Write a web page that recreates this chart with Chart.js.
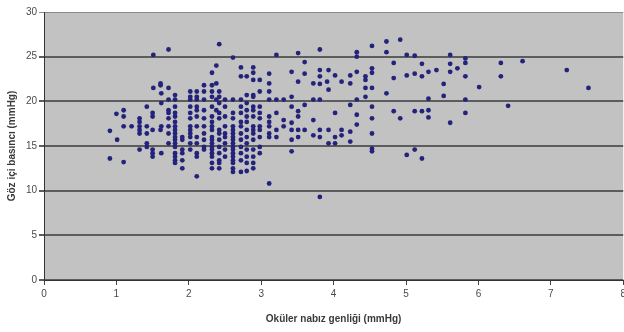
<!DOCTYPE html>
<html>
<head>
<meta charset="utf-8">
<script src="https://cdn.jsdelivr.net/npm/chart.js@4"></script>
<style>
html, body { margin: 0; padding: 0; background: #fff; overflow: hidden; }
</style>
</head>
<body>
<canvas id="scatter" width="629" height="332"></canvas>
<script>
// ocular pulse amplitude (x) and intraocular pressure (y)
var opa = [
  2.42, 1.72, 1.51, 2.61, 3.21, 2.38, 2.72, 2.89, 2.32, 2.89, 3.11, 2.72, 2.80, 2.89, 2.98, 1.61, 2.38, 3.11,
  2.21, 2.32, 1.61, 1.51, 1.72, 1.62, 2.02, 2.11, 2.21, 2.32, 2.42, 2.98, 3.11, 1.81, 2.80, 2.89,
  2.02, 2.11, 2.32, 2.42, 2.89, 1.72, 1.81, 2.02, 2.11, 2.21, 2.38, 2.50, 2.61, 2.72, 3.11, 3.21,
  1.62, 2.42, 2.80, 1.42, 1.81, 2.02, 2.11, 2.32, 2.50, 2.72, 2.89, 2.98, 1.10, 1.72, 2.11, 2.21, 2.38, 2.80, 2.89,
  1.00, 1.50, 1.72, 1.81, 2.02, 2.42, 2.61, 2.72, 2.98, 3.21, 1.10, 1.50, 1.81, 2.11, 2.32, 2.50, 2.80, 2.89, 3.11,
  1.32, 1.72, 2.02, 2.21, 2.42, 2.61, 2.98, 1.32, 1.81, 2.32, 2.72, 2.80, 3.11,
  1.10, 1.21, 1.32, 1.42, 1.62, 1.72, 1.81, 2.02, 2.11, 2.21, 2.32, 2.50, 2.61, 2.72, 2.89, 2.98, 3.11,
  0.91, 1.32, 1.50, 1.61, 1.81, 2.02, 2.32, 2.42, 2.61, 2.80, 2.89, 2.98, 3.21,
  1.32, 1.42, 1.72, 1.81, 2.02, 2.21, 2.42, 2.50, 2.61, 2.72, 2.89, 3.11,
  1.81, 1.91, 2.02, 2.11, 2.32, 2.50, 2.61, 2.80, 2.98, 3.11, 3.21,
  1.01, 1.81, 1.91, 2.21, 2.32, 2.42, 2.61, 2.72, 2.89, 1.42, 1.72, 1.81, 2.02, 2.11, 2.32, 2.50, 2.61, 2.80,
  1.42, 1.81, 2.21, 2.32, 2.42, 2.61, 2.72, 2.98, 1.32, 1.50, 1.91, 2.02, 2.21, 2.32, 2.50, 2.61, 2.80, 2.89,
  1.50, 1.62, 1.81, 1.91, 2.11, 2.32, 2.42, 2.61, 2.72, 2.98, 0.91, 1.50, 1.81, 2.11, 2.32, 2.50, 2.61, 2.80, 2.89,
  1.81, 1.91, 2.42, 2.61, 2.72, 1.10, 1.81, 2.32, 2.42, 2.61, 2.80, 2.89, 1.91, 2.32, 2.42, 2.61, 2.89,
  2.61, 2.72, 2.80, 2.11, 3.11, 3.81,
  3.81, 3.51, 3.60, 4.32, 4.32, 4.53, 4.73, 4.92, 4.73, 5.01, 5.12, 4.83, 5.22, 3.42, 3.60, 3.81, 3.93, 3.81,
  4.02, 4.23, 4.32, 4.44, 4.53, 4.53, 4.44, 3.91, 3.72, 3.81, 4.11, 4.23, 3.51, 3.93, 4.44, 4.53,
  5.31, 5.01, 5.12, 5.22, 4.83, 4.73, 5.31, 3.31, 3.42, 3.42, 3.51, 3.51, 3.60, 3.72, 3.81, 4.02, 4.23, 4.32,
  4.32, 4.44, 4.53, 4.53, 4.83, 4.92, 5.12, 5.22, 5.31, 5.31, 3.31, 3.31, 3.42, 3.42, 3.51, 3.60, 3.72, 3.72,
  3.81, 3.81, 3.93, 3.93, 4.02, 4.02, 4.11, 4.11, 4.23, 4.23, 4.32, 4.53, 3.51, 3.42, 3.42, 4.53, 4.53,
  5.01, 5.12, 5.22,
  5.61, 5.82, 5.82, 5.61, 5.71, 5.42, 5.61, 5.82, 5.52, 6.01, 5.52, 5.82, 6.31, 6.31, 6.61, 7.22, 7.52, 6.41,
  5.82, 5.61
];
var iop = [
  26.4, 25.8, 25.2, 24.9, 25.2, 24.0, 23.8, 23.8, 23.2, 23.2, 23.1, 22.8, 22.8, 22.4, 22.4, 22.0, 22.0, 22.0,
  21.8, 21.8, 21.8, 21.5, 21.5, 20.9, 21.1, 21.1, 21.1, 21.1, 21.1, 21.1, 21.1, 20.7, 20.7, 20.7,
  20.5, 20.5, 20.5, 20.5, 20.5, 20.2, 20.2, 20.2, 20.2, 20.2, 20.2, 20.2, 20.2, 20.2, 20.2, 20.2,
  19.8, 19.8, 19.8, 19.4, 19.4, 19.4, 19.4, 19.4, 19.4, 19.4, 19.4, 19.4, 19.0, 19.0, 19.0, 19.0, 19.0, 19.0, 19.0,
  18.6, 18.7, 18.7, 18.7, 18.7, 18.7, 18.7, 18.7, 18.7, 18.7, 18.3, 18.3, 18.3, 18.3, 18.3, 18.3, 18.3, 18.3, 18.3,
  18.1, 18.1, 18.1, 18.1, 18.1, 18.1, 18.1, 17.7, 17.7, 17.7, 17.7, 17.7, 17.7,
  17.2, 17.2, 17.2, 17.2, 17.2, 17.2, 17.2, 17.2, 17.2, 17.2, 17.2, 17.2, 17.2, 17.2, 17.2, 17.2, 17.2,
  16.7, 16.8, 16.8, 16.8, 16.8, 16.8, 16.8, 16.8, 16.8, 16.8, 16.8, 16.8, 16.8,
  16.4, 16.4, 16.4, 16.4, 16.4, 16.4, 16.4, 16.4, 16.4, 16.4, 16.4, 16.4,
  16.0, 16.0, 16.0, 16.0, 16.0, 16.0, 16.0, 16.0, 16.0, 16.0, 16.0,
  15.7, 15.7, 15.7, 15.7, 15.7, 15.7, 15.7, 15.7, 15.7, 15.3, 15.3, 15.3, 15.3, 15.3, 15.3, 15.3, 15.3, 15.3,
  14.9, 14.9, 14.9, 14.9, 14.9, 14.9, 14.9, 14.9, 14.6, 14.6, 14.6, 14.6, 14.6, 14.6, 14.6, 14.6, 14.6, 14.6,
  14.2, 14.2, 14.2, 14.2, 14.2, 14.2, 14.2, 14.2, 14.2, 14.2, 13.6, 13.8, 13.8, 13.8, 13.8, 13.8, 13.8, 13.8, 13.8,
  13.4, 13.4, 13.4, 13.4, 13.4, 13.2, 13.1, 13.1, 13.1, 13.1, 13.1, 13.1, 12.5, 12.5, 12.5, 12.5, 12.5,
  12.1, 12.1, 12.2, 11.6, 10.8, 9.3,
  25.8, 25.4, 24.4, 25.5, 25.0, 26.2, 26.7, 26.9, 25.5, 25.2, 25.1, 24.3, 24.2, 23.3, 23.1, 23.5, 23.5, 22.8,
  22.9, 22.9, 23.3, 22.8, 23.7, 23.2, 22.4, 22.2, 22.0, 21.95, 22.2, 22.0, 22.2, 21.3, 21.5, 21.5,
  23.3, 22.9, 23.1, 22.8, 22.6, 20.9, 20.3, 20.2, 20.5, 19.4, 18.9, 18.3, 19.6, 20.2, 20.2, 18.7, 19.6, 20.2,
  18.5, 20.5, 19.4, 18.1, 18.9, 18.1, 18.9, 18.9, 19.0, 18.2, 17.9, 17.2, 17.6, 16.8, 16.8, 16.8, 17.9, 16.2,
  16.8, 16.0, 16.8, 15.3, 16.0, 15.3, 16.8, 16.2, 16.6, 15.5, 17.4, 16.4, 16.0, 15.7, 14.4, 14.7, 14.4,
  14.0, 14.6, 13.6,
  25.2, 24.8, 24.3, 24.2, 23.7, 23.5, 23.3, 22.8, 21.95, 21.6, 20.6, 20.2, 24.3, 22.8, 24.5, 23.5, 21.5, 19.5,
  18.7, 17.6
];
var xTitle = 'Oküler nabız genliği (mmHg)';
var yTitle = 'Göz içi basıncı (mmHg)';

var points = opa.map(function (x, i) { return { x: x, y: iop[i] }; });

// grey plot area like the spreadsheet chart
var plotBg = {
  id: 'plotBg',
  beforeDraw: function (chart) {
    var a = chart.chartArea, c = chart.ctx;
    c.save();
    c.fillStyle = '#c2c2c2';
    c.fillRect(a.left, a.top, a.right - a.left, a.bottom - a.top);
    c.restore();
  }
};

var tickFont = { family: 'Liberation Sans', size: 10 };
var titleFont = { family: 'Liberation Sans', size: 10, weight: 'bold' };

new Chart(document.getElementById('scatter').getContext('2d'), {
  type: 'scatter',
  data: {
    datasets: [{
      data: points,
      backgroundColor: '#23237c',
      borderWidth: 0,
      pointRadius: 2.4,
      pointHoverRadius: 2.4
    }]
  },
  options: {
    responsive: false,
    animation: false,
    devicePixelRatio: 1,
    layout: { padding: { top: 12, right: 0, bottom: 0, left: 0 } },
    plugins: { legend: { display: false }, tooltip: { enabled: false } },
    scales: {
      x: {
        type: 'linear', min: 0, max: 8,
        ticks: { stepSize: 1, color: '#4a4a4a', font: tickFont, padding: 3 },
        grid: { drawOnChartArea: false, drawTicks: true, tickLength: 5, color: '#444' },
        border: { color: '#333', width: 1 },
        title: { display: true, text: xTitle, color: '#3a3a3a', font: titleFont, padding: { top: 0, bottom: 7 } },
        afterFit: function (s) { s.height = 52; }
      },
      y: {
        type: 'linear', min: 0, max: 30,
        ticks: { stepSize: 5, color: '#4a4a4a', font: tickFont, padding: 2 },
        grid: {
          tickLength: 5,
          color: function (ctx) {
            if (ctx.tick.value === 30) return '#8a8a8a';
            return '#5c5c5c';
          },
          lineWidth: function (ctx) { return ctx.tick.value === 30 ? 1 : 2; }
        },
        border: { color: '#333', width: 1 },
        title: { display: true, text: yTitle, color: '#3a3a3a', font: titleFont, padding: { top: 6, bottom: 0 } },
        afterFit: function (s) { s.width = 44; }
      }
    }
  },
  plugins: [plotBg]
});
</script>
</body>
</html>
